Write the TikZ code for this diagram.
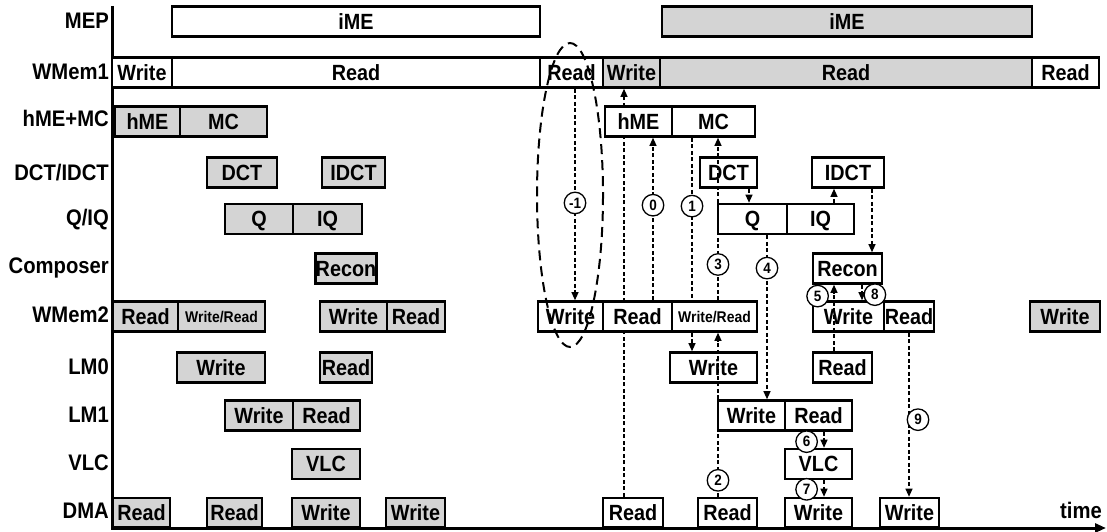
\documentclass[tikz,border=0pt]{standalone}
\usepackage{fontspec}
\setmainfont{Liberation Sans}[FakeStretch=0.9]
\usetikzlibrary{arrows.meta}
\pgfdeclarelayer{back}
\pgfsetlayers{back,main}

\begin{document}
\begin{tikzpicture}[
	x=1pt, y=-1pt,
	slot/.style={ draw, line width=2.6pt, fill=white, inner sep=0pt, minimum height=30pt, text height=15.5pt, text depth=0pt, font=\bfseries\fontsize{22}{22}\selectfont },
	slotg/.style={ slot, fill=black!17 },
	small/.style={ text height=11pt, font=\bfseries\fontsize{15.5}{15.5}\selectfont },
	rowlab/.style={ anchor=east, inner sep=0pt, text height=16pt, text depth=0pt, font=\bfseries\fontsize{22.5}{22.5}\selectfont },
	flow/.style={ dash pattern=on 4pt off 2.5pt, line width=1.1pt, -{Triangle[length=8pt,width=7pt]} },
	num/.style={ solid, circle, draw, line width=1.3pt, fill=white, inner sep=0pt, minimum size=21.5pt, font=\bfseries\fontsize{15}{15}\selectfont }
]
\useasboundingbox (0,0) rectangle (1107,532);

% axes
\coordinate (top) at (112,6);
\coordinate (orig) at (112,528);
\coordinate (tend) at (1106,528);
\draw[line width=3pt, -{Triangle[length=11pt,width=9pt]}] (top) -- (orig) -- (tend);
\node at (1102,510) (ltime) [rowlab] {time};

% row names
\node at (109,21) (lmep) [rowlab] {MEP};
\node at (109,72) (lwm1) [rowlab] {WMem1};
\node at (109,119) (lhme) [rowlab] {hME+MC};
\node at (109,172) (ldct) [rowlab] {DCT/IDCT};
\node at (109,217) (lq) [rowlab] {Q/IQ};
\node at (109,265) (lcomp) [rowlab] {Composer};
\node at (109,314) (lwm2) [rowlab] {WMem2};
\node at (109,366) (llm0) [rowlab] {LM0};
\node at (109,414) (llm1) [rowlab] {LM1};
\node at (109,462) (lvlc) [rowlab] {VLC};
\node at (109,510) (ldma) [rowlab] {DMA};

% MEP
\node at (356,21.5) (ime1) [slot, minimum width=368] {iME};
\node at (847,21.5) (ime2) [slotg, minimum width=370] {iME};

% WMem1
\node at (142,72.5) (wm1a) [slot, minimum width=60] {Write};
\node at (356,72.5) (wm1b) [slot, minimum width=368] {Read};
\node at (571.5,72.5) (wm1c) [slot, minimum width=63] {Read};
\node at (631.5,72.5) (wm1d) [slotg, minimum width=57] {Write};
\node at (846,72.5) (wm1e) [slotg, minimum width=372] {Read};
\node at (1065.5,72.5) (wm1f) [slot, minimum width=67] {Read};

% hME+MC
\node at (147.5,121.5) (hme1) [slotg, minimum width=65] {hME};
\node at (223.5,121.5) (mc1) [slotg, minimum width=87] {MC};
\node at (638.5,121.5) (hme2) [slot, minimum width=67] {hME};
\node at (713.5,121.5) (mc2) [slot, minimum width=83] {MC};

% DCT/IDCT
\node at (242,172.5) (dct1) [slotg, minimum width=70] {DCT};
\node at (353.5,172.5) (idct1) [slotg, minimum width=63] {IDCT};
\node at (728.5,172.5) (dct2) [slot, minimum width=57] {DCT};
\node at (848,172.5) (idct2) [slot, minimum width=72] {IDCT};

% Q/IQ
\node at (259,219) (q1) [slotg, minimum width=68] {Q};
\node at (327.5,219) (iq1) [slotg, minimum width=69] {IQ};
\node at (752.5,219) (q2) [slot, minimum width=69] {Q};
\node at (820.5,219) (iq2) [slot, minimum width=67] {IQ};

% Composer
\node at (346,268.5) (rec1) [slotg, minimum width=58] {Recon};
\node at (847.5,268.5) (rec2) [slot, minimum width=69] {Recon};

% WMem2
\node at (145.5,316.5) (wm2a) [slotg, minimum width=65] {Read};
\node at (221.5,316.5) (wm2b) [slotg, small, minimum width=87] {Write/Read};
\node at (353.5,316.5) (wm2c) [slotg, minimum width=67] {Write};
\node at (416,316.5) (wm2d) [slotg, minimum width=58] {Read};
\node at (570.5,316.5) (wm2e) [slot, minimum width=65] {Write};
\node at (637.5,316.5) (wm2f) [slot, minimum width=69] {Read};
\node at (714.5,316.5) (wm2g) [slot, small, minimum width=85] {Write/Read};
\node at (848.5,316.5) (wm2h) [slot, minimum width=71] {Write};
\node at (909,316.5) (wm2i) [slot, minimum width=50] {Read};
\node at (1065,316.5) (wm2j) [slotg, minimum width=70] {Write};

% LM0
\node at (221,367.5) (lm0a) [slotg, minimum width=88] {Write};
\node at (346,367.5) (lm0b) [slotg, minimum width=52] {Read};
\node at (713.5,367.5) (lm0c) [slot, minimum width=87] {Write};
\node at (842.5,367.5) (lm0d) [slot, minimum width=59] {Read};

% LM1
\node at (259,415.5) (lm1a) [slotg, minimum width=68] {Write};
\node at (326.5,415.5) (lm1b) [slotg, minimum width=67] {Read};
\node at (751.5,415.5) (lm1c) [slot, minimum width=67] {Write};
\node at (818.5,415.5) (lm1d) [slot, minimum width=67] {Read};

% VLC
\node at (326,464) (vlc1) [slotg, minimum width=68] {VLC};
\node at (818.5,464) (vlc2) [slot, minimum width=67] {VLC};

% DMA
\node at (141.5,512.5) (dmaa) [slotg, minimum width=57, minimum height=29] {Read};
\node at (234.5,512.5) (dmab) [slotg, minimum width=55, minimum height=29] {Read};
\node at (326,512.5) (dmac) [slotg, minimum width=68, minimum height=29] {Write};
\node at (415.5,512.5) (dmad) [slotg, minimum width=59, minimum height=29] {Write};
\node at (633,512.5) (dmae) [slot, minimum width=60, minimum height=29] {Read};
\node at (727.5,512.5) (dmaf) [slot, minimum width=59, minimum height=29] {Read};
\node at (818.5,512.5) (dmag) [slot, minimum width=67, minimum height=29] {Write};
\node at (909.5,512.5) (dmah) [slot, minimum width=59, minimum height=29] {Write};

% data flow
\begin{pgfonlayer}{back}
\draw[flow] ([xshift=-9]dmae.north) -- ([xshift=-7.5]wm1d.south);
\draw[flow] ([xshift=-21.5]mc2.south) -- node[num, pos=0.32] {1} ([xshift=-21.5]lm0c.north);
\end{pgfonlayer}
\draw[flow] ([xshift=3.5]wm1c.south) -- node[num, pos=0.54] {-1} ([xshift=4.5]wm2e.north);
\draw[flow] ([xshift=15.5]wm2f.north) -- node[num, pos=0.585] {0} ([xshift=14.5]hme2.south);
\draw[flow] ([xshift=-9.5]dmaf.north) -- node[num, pos=0.1] {2} ([xshift=3.5]wm2g.south);
\draw[flow] ([xshift=3.5]wm2g.north) -- node[num, pos=0.22] {3} ([xshift=4.5]mc2.south);
\draw[flow] ([xshift=20.5]dct2.south) -- ([xshift=-3.5]q2.north);
\draw[flow] ([xshift=13.5]iq2.north) -- ([xshift=-14]idct2.south);
\draw[flow] ([xshift=14.5]q2.south) -- node[num, pos=0.2] {4} ([xshift=15.5]lm1c.north);
\draw[flow] ([xshift=24]idct2.south) -- ([xshift=24.5]rec2.north);
\draw[flow] ([xshift=-8.5]lm0d.north) -- node[num, pos=0.83, left=5pt] {5} ([xshift=-13.5]rec2.south);
\draw[flow] ([xshift=14.5]rec2.south) -- node[num, pos=0.64, right=1.5pt] {8} ([xshift=13.5]wm2h.north);
\draw[flow] (wm2i.south) -- node[num, pos=0.53, xshift=9pt] {9} ([xshift=-0.5]dmah.north);
\draw[flow] ([xshift=5.5]lm1d.south) -- node[num, pos=0.62, left=6pt] {6} ([xshift=5.5]vlc2.north);
\draw[flow] ([xshift=5.5]vlc2.south) -- node[num, pos=0.55, left=6pt] {7} ([xshift=5.5]dmag.north);

% loop round -1
\draw[line width=2pt, dash pattern=on 10pt off 6pt] (570,195) ellipse [x radius=33, y radius=152];

\end{tikzpicture}
\end{document}
